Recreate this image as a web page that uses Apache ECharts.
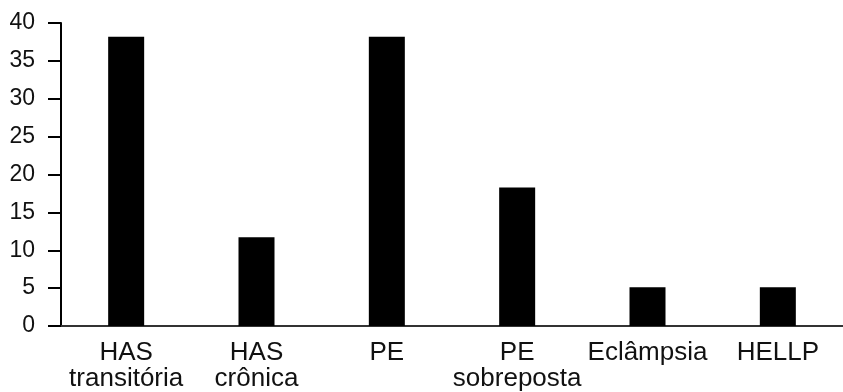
<!DOCTYPE html>
<html>
<head>
<meta charset="utf-8">
<script src="https://cdn.jsdelivr.net/npm/echarts@6/dist/echarts.min.js"></script>
<style>
html,body{margin:0;padding:0;background:#fff;}
#chart{width:843px;height:392px;}
</style>
</head>
<body>
<div id="chart"></div>
<script>
const categories = ['HAS\ntransitória', 'HAS\ncrônica', 'PE', 'PE\nsobreposta', 'Eclâmpsia', 'HELLP'];
const values = [38.2, 11.7, 38.2, 18.3, 5.1, 5.1];
const yTicks = { min: 0, max: 40, interval: 5 };

const chart = echarts.init(document.getElementById('chart'), null, { renderer: 'canvas' });
chart.setOption({
  animation: false,
  backgroundColor: '#fff',
  grid: { left: 61, right: -16, top: 23, bottom: 66 },
  xAxis: {
    type: 'category',
    data: categories,
    axisLine: { show: true, lineStyle: { color: '#333', width: 2 } },
    axisTick: { show: false },
    axisLabel: {
      color: '#111', fontFamily: 'Liberation Sans, Arial, sans-serif',
      fontSize: 26, lineHeight: 26, margin: 14, interval: 0
    },
    splitLine: { show: false }
  },
  yAxis: {
    type: 'value',
    min: yTicks.min, max: yTicks.max, interval: yTicks.interval,
    axisLine: { show: true, lineStyle: { color: '#000', width: 2 } },
    axisTick: { show: true, length: 13, lineStyle: { color: '#000', width: 2 } },
    axisLabel: {
      color: '#111', fontFamily: 'Liberation Sans, Arial, sans-serif',
      fontSize: 23, margin: 26
    },
    splitLine: { show: false }
  },
  series: [{
    type: 'bar',
    data: values,
    barWidth: 36,
    itemStyle: { color: '#000' }
  }]
});
</script>
</body>
</html>
